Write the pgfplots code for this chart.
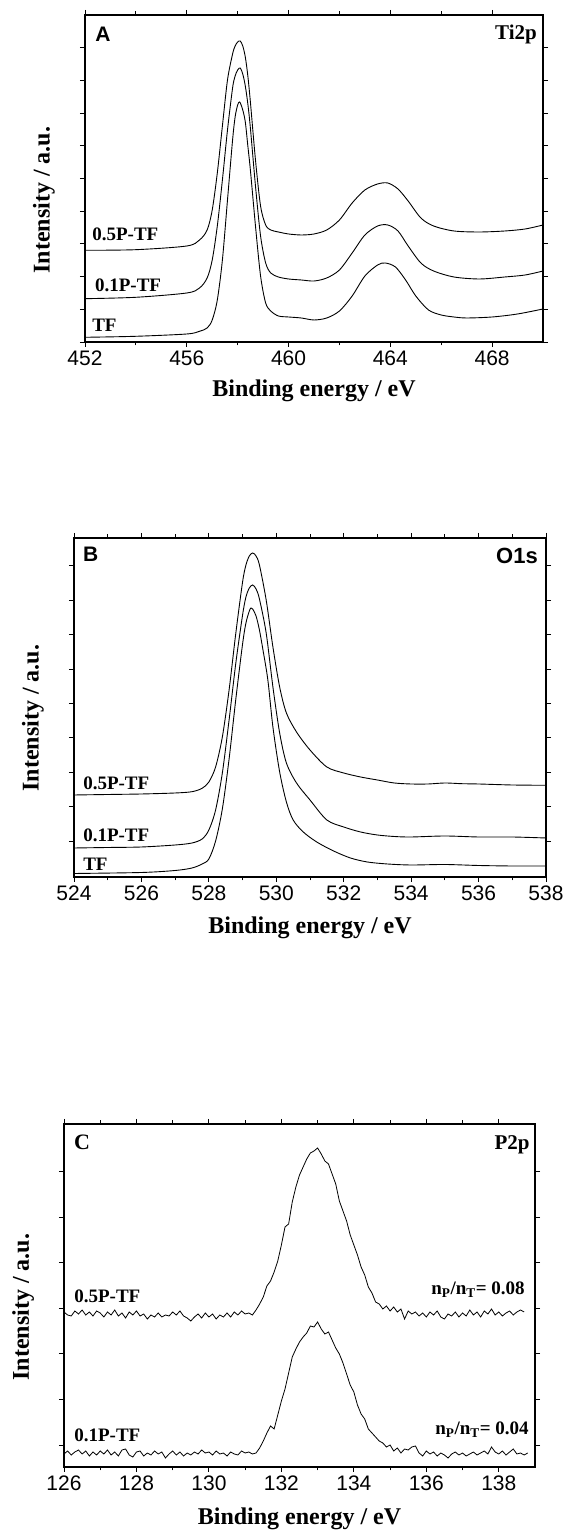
\documentclass[border=0pt]{standalone}
\usepackage{fontspec}
\setmainfont{Liberation Serif}
\setsansfont{Liberation Sans}
\usepackage{pgfplots}
\pgfplotsset{compat=1.18}
\newcommand\tfont{\fontsize{21}{24}\selectfont\sffamily}
\newcommand\labfont{\fontsize{24}{28}\selectfont\bfseries\rmfamily}
\newcommand\cfont{\fontsize{19}{22}\selectfont\bfseries\rmfamily}
\pgfplotsset{
  xps/.style={
    scale only axis,
    axis line style={line width=1.1pt},
    every tick/.style={line width=0.9pt, black},
    tick align=outside,
    major tick length=5pt, minor tick length=3.5pt,
    minor x tick num=1,
    yticklabels={},
    tick label style={font=\tfont},
    /pgf/number format/assume math mode=true,
    xticklabel style={/pgf/number format/1000 sep={}},
    xlabel={Binding energy / eV},
    ylabel={Intensity / a.u.},
    label style={font=\labfont},
    xlabel style={at={(axis description cs:0.5,-0.15)}, anchor=center},
    clip=false,
  },
  sp/.style={black, line width=0.9pt, no marks, smooth},
  np/.style={black, line width=0.8pt, no marks},
}
\begin{document}
\begin{tikzpicture}
\useasboundingbox (0pt,0pt) rectangle (570pt,1531pt);
% ---------------- Panel A ----------------
\begin{axis}[xps, at={(85pt,1189pt)}, anchor=south west,
  width=458pt, height=327pt,
  xmin=452, xmax=470, ymin=0, ymax=327,
  xtick={452,456,460,464,468},
  ytick={0,32.7,65.4,98.1,130.8,163.5,196.2,228.9,261.6,294.3},
  ylabel style={at={(axis description cs:-0.0895,0.434)}, anchor=center}]
\addplot[sp] coordinates {
(452,4.7)(454,5.7)(456,8)(456.5,10.7)(456.8,14)(457,22)(457.2,42)(457.4,82)(457.6,142)(457.8,202)(457.9,225)(458.0,237)(458.08,240)(458.2,232)(458.3,220)(458.4,196)(458.5,172)(458.7,116)(458.9,66)(459.1,39)(459.3,31)(459.6,26)(460,25)(460.5,24)(461,22)(461.5,24)(462,31)(462.5,46)(463,66)(463.5,77)(463.8,79)(464.2,75)(464.6,62)(465,46)(465.5,32)(466,27)(466.5,25)(467,24)(468,25)(469,28)(470,33)};
\addplot[sp] coordinates {
(452,43.3)(454,44.7)(456,49)(456.5,54)(456.8,64)(457,82)(457.2,116)(457.4,162)(457.6,212)(457.8,254)(457.9,266)(458.0,272)(458.1,274)(458.2,268)(458.3,256)(458.4,238)(458.5,214)(458.7,156)(458.9,106)(459.1,79)(459.3,69)(459.6,65)(460,63)(460.5,62)(461,61)(461.5,64)(462,72)(462.5,89)(463,107)(463.5,116)(463.9,117)(464.3,111)(464.7,96)(465.2,79)(465.7,71)(466.5,65)(467.5,63)(468.5,65)(469.3,67)(470,71)};
\addplot[sp] coordinates {
(452,91.7)(454,92.3)(456,96)(456.5,102)(456.8,112)(457,132)(457.2,169)(457.4,216)(457.6,262)(457.8,288)(457.9,296)(458.0,300)(458.1,301)(458.2,296)(458.3,285)(458.4,266)(458.5,240)(458.7,182)(458.9,136)(459.1,117)(459.3,112)(459.6,110)(460,108)(460.5,107)(461,108)(461.5,112)(462,122)(462.5,139)(463,152)(463.5,158)(463.9,159)(464.3,153)(464.7,141)(465.2,124)(465.7,116)(466.5,111)(467.5,110)(468.5,111)(469.3,113)(470,117)};
\node[anchor=north west, inner sep=0pt, font=\fontsize{21}{24}\selectfont\bfseries\sffamily] at (axis description cs:0.022,0.963) {A};
\node[anchor=north east, inner sep=0pt, font=\fontsize{21}{24}\selectfont\bfseries\rmfamily] at (axis description cs:0.987,0.969) {Ti2p};
\node[anchor=base west, inner sep=0pt, font=\cfont] at (axis cs:452.28,101) {0.5P-TF};
\node[anchor=base west, inner sep=0pt, font=\cfont] at (axis cs:452.39,50) {0.1P-TF};
\node[anchor=base west, inner sep=0pt, font=\cfont] at (axis cs:452.28,10) {TF};
\end{axis}
% ---------------- Panel B ----------------
\begin{axis}[xps, at={(74pt,654pt)}, anchor=south west,
  width=472pt, height=339pt,
  xmin=524, xmax=538, ymin=0, ymax=339,
  xtick={524,526,...,538},
  ytick={36,70.4,104.8,139.2,173.6,208,242.4,276.8,311.2},
  ylabel style={at={(axis description cs:-0.087,0.469)}, anchor=center}]
\addplot[sp] coordinates {
(524,3.5)(526,4.5)(527,6.5)(527.5,9)(527.8,13)(528,18)(528.2,36)(528.4,68)(528.6,118)(528.8,178)(529.0,233)(529.1,254)(529.2,266)(529.25,269)(529.3,268)(529.4,261)(529.5,247)(529.6,228)(529.75,197)(529.9,150)(530.1,105)(530.3,75)(530.5,57)(530.8,45)(531.2,35)(531.7,26)(532.2,19)(532.7,15)(533.3,13)(534,12)(535,12.5)(536,11.5)(537,11)(538,11)};
\addplot[sp] coordinates {
(524,29)(525,29.5)(526,30)(527,32)(527.5,34)(527.8,38)(528,47)(528.2,67)(528.4,104)(528.6,157)(528.8,214)(529.0,262)(529.1,280)(529.2,289)(529.3,292)(529.4,288)(529.5,278)(529.7,244)(529.9,190)(530.1,144)(530.3,114)(530.6,94)(531,77)(531.5,57)(532,50)(532.5,45)(533,42)(533.5,40.5)(534,40)(535,41)(536,40)(537,40)(538,39)};
\addplot[sp] coordinates {
(524,82)(525,82.5)(526,83)(527,84)(527.5,85.3)(527.8,88.7)(528,95)(528.2,110)(528.4,140)(528.6,187)(528.8,244)(529.0,295)(529.1,312)(529.2,321)(529.3,324)(529.4,321)(529.5,312)(529.7,277)(529.9,230)(530.1,190)(530.3,164)(530.6,145)(531,127)(531.5,110)(532,104)(532.5,100)(533,97)(533.5,94)(534,93)(534.5,93)(535,94)(535.5,93.3)(536,93)(537,92)(538,91.7)};
\node[anchor=north west, inner sep=0pt, font=\fontsize{21}{24}\selectfont\bfseries\sffamily] at (axis description cs:0.019,0.973) {B};
\node[anchor=north east, inner sep=0pt, font=\fontsize{22}{24}\selectfont\bfseries\sffamily] at (axis description cs:0.983,0.970) {O1s};
\node[anchor=base west, inner sep=0pt, font=\cfont] at (axis cs:524.27,87) {0.5P-TF};
\node[anchor=base west, inner sep=0pt, font=\cfont] at (axis cs:524.27,35) {0.1P-TF};
\node[anchor=base west, inner sep=0pt, font=\cfont] at (axis cs:524.27,6) {TF};
\end{axis}
% ---------------- Panel C ----------------
\begin{axis}[xps, at={(64pt,64pt)}, anchor=south west,
  width=471pt, height=343pt,
  xmin=126, xmax=139, ymin=0, ymax=343,
  xtick={126,128,...,138},
  ytick={22,67.6,113.2,158.8,204.4,250,295.6},
  ylabel style={at={(axis description cs:-0.087,0.466)}, anchor=center}]
\addplot[np] coordinates {
(126.0,155)(126.1,152)(126.2,151)(126.3,156)(126.4,153)(126.5,157)(126.6,152)(126.7,155)(126.8,151)(126.9,156)(127.0,154)(127.1,150)(127.2,155)(127.3,152)(127.4,157)(127.5,151)(127.6,154)(127.7,149)(127.8,155)(127.9,152)(128.0,156)(128.1,151)(128.2,153)(128.3,148)(128.4,152)(128.5,150)(128.6,154)(128.7,150)(128.8,152)(128.9,151)(129.0,155)(129.1,152)(129.2,156)(129.3,151)(129.4,149)(129.5,146)(129.6,150)(129.7,153)(129.8,149)(129.9,154)(130.0,150)(130.1,153)(130.2,148)(130.3,152)(130.4,150)(130.5,154)(130.6,150)(130.7,155)(130.8,152)(130.9,156)(131.0,153)(131.1,154)(131.2,152)(131.3,157)(131.4,163)(131.5,170)(131.6,181)(131.7,186)(131.8,195)(131.9,206)(132.0,222)(132.1,240)(132.2,243)(132.3,265)(132.4,280)(132.5,292)(132.6,300)(132.7,308)(132.8,314)(132.9,316)(133.0,319)(133.1,313)(133.2,306)(133.3,303)(133.4,293)(133.5,283)(133.6,266)(133.7,256)(133.8,246)(133.9,232)(134.0,222)(134.1,212)(134.2,200)(134.3,192)(134.4,180)(134.5,174)(134.6,165)(134.7,163)(134.8,158)(134.9,161)(135.0,156)(135.1,160)(135.2,155)(135.3,158)(135.4,148)(135.5,156)(135.6,153)(135.7,155)(135.8,151)(135.9,154)(136.0,150)(136.1,155)(136.2,152)(136.3,156)(136.4,150)(136.5,148)(136.6,153)(136.7,151)(136.8,155)(136.9,150)(137.0,154)(137.1,151)(137.2,157)(137.3,152)(137.4,155)(137.5,150)(137.6,156)(137.7,153)(137.8,158)(137.9,152)(138.0,155)(138.1,151)(138.2,154)(138.3,156)(138.4,152)(138.5,155)(138.6,157)(138.7,155)};
\addplot[np] coordinates {
(126.0,13)(126.1,16)(126.2,12)(126.3,15)(126.4,17)(126.5,13)(126.6,16)(126.7,11)(126.8,15)(126.9,12)(127.0,16)(127.1,13)(127.2,17)(127.3,12)(127.4,15)(127.5,11)(127.6,17)(127.7,18)(127.8,12)(127.9,10)(128.0,15)(128.1,16)(128.2,11)(128.3,14)(128.4,12)(128.5,16)(128.6,13)(128.7,15)(128.8,9)(128.9,13)(129.0,16)(129.1,12)(129.2,15)(129.3,11)(129.4,14)(129.5,12)(129.6,15)(129.7,13)(129.8,17)(129.9,14)(130.0,15)(130.1,12)(130.2,16)(130.3,13)(130.4,14)(130.5,11)(130.6,15)(130.7,13)(130.8,12)(130.9,16)(131.0,14)(131.1,15)(131.2,13)(131.3,14)(131.4,19)(131.5,26)(131.6,34)(131.7,41)(131.8,38)(131.9,52)(132.0,66)(132.1,78)(132.2,94)(132.3,110)(132.4,118)(132.5,125)(132.6,130)(132.7,134)(132.8,141)(132.9,140)(133.0,145)(133.1,138)(133.2,133)(133.3,135)(133.4,127)(133.5,119)(133.6,113)(133.7,104)(133.8,93)(133.9,82)(134.0,75)(134.1,62)(134.2,53)(134.3,48)(134.4,38)(134.5,34)(134.6,30)(134.7,26)(134.8,24)(134.9,20)(135.0,22)(135.1,16)(135.2,19)(135.3,14)(135.4,18)(135.5,17)(135.6,20)(135.7,21)(135.8,14)(135.9,11)(136.0,16)(136.1,13)(136.2,15)(136.3,11)(136.4,14)(136.5,12)(136.6,9)(136.7,13)(136.8,15)(136.9,12)(137.0,14)(137.1,11)(137.2,13)(137.3,15)(137.4,12)(137.5,14)(137.6,16)(137.7,13)(137.8,20)(137.9,15)(138.0,13)(138.1,16)(138.2,12)(138.3,15)(138.4,18)(138.5,13)(138.6,14)(138.7,12)(138.8,14)};
\node[anchor=north west, inner sep=0pt, font=\fontsize{22}{24}\selectfont\bfseries\rmfamily] at (axis description cs:0.021,0.968) {C};
\node[anchor=north east, inner sep=0pt, font=\fontsize{21}{24}\selectfont\bfseries\rmfamily] at (axis description cs:0.989,0.968) {P2p};
\node[anchor=base west, inner sep=0pt, font=\cfont] at (axis cs:126.28,164) {0.5P-TF};
\node[anchor=base west, inner sep=0pt, font=\cfont] at (axis cs:126.28,25) {0.1P-TF};
\node[anchor=base east, inner sep=0pt, font=\cfont] at (axis cs:138.72,172) {n\textsubscript{P}/n\textsubscript{T}= 0.08};
\node[anchor=base east, inner sep=0pt, font=\cfont] at (axis cs:138.83,32) {n\textsubscript{P}/n\textsubscript{T}= 0.04};
\end{axis}
\end{tikzpicture}
\end{document}
